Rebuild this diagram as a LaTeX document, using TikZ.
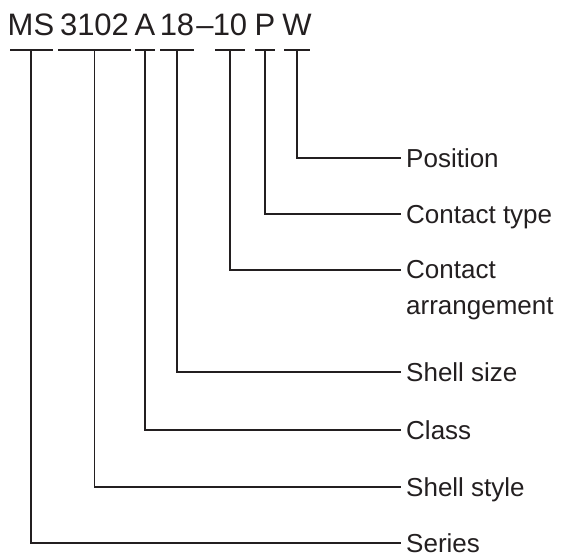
\documentclass[tikz,border=0pt]{standalone}
\usepackage{fontspec}
\setmainfont{Liberation Sans}
\definecolor{ink}{RGB}{35,31,32}
\tikzset{
  code/.style={anchor=base, inner sep=0pt, text=ink, font=\fontsize{31}{31}\selectfont},
  lbl/.style={anchor=west, inner xsep=5pt, inner ysep=0pt, text height=18.6pt, text depth=0pt, text=ink},
  wire/.style={draw=ink, line width=1.5pt}
}
\begin{document}
\begin{tikzpicture}[x=1pt, y=-1pt, line join=miter, font=\fontsize{26}{36}\selectfont]
  \useasboundingbox (0,0) rectangle (567,558);
  % the code
  \node[code] (ms)   at (31,35)    {MS};
  \node[code] (num)  at (94.5,35)  {3102};
  \node[code] (cls)  at (145,35)   {A};
  \node[code] (size) at (177,35)   {18};
  \node[code] (dash) at (205,35)   {–};
  \node[code] (arr)  at (230,35)   {10};
  \node[code] (typ)  at (265,35)   {P};
  \node[code] (pos)  at (297,35)   {W};
  % bars under the parts
  \foreach \a/\b in {10/53, 58/131, 135/155, 160/194, 215/245, 255/275, 284/310}
    \draw[wire] (\a,50) -- (\b,50);
  \coordinate (tMS)   at (31,50);
  \coordinate (tNum)  at (94.5,50);
  \coordinate (tCls)  at (145,50);
  \coordinate (tSize) at (177,50);
  \coordinate (tArr)  at (230,50);
  \coordinate (tTyp)  at (265,50);
  \coordinate (tPos)  at (297,50);
  % labels
  \node[lbl] (position) at (401,158) {Position};
  \node[lbl] (ctype)    at (401,214) {Contact type};
  \coordinate (eArr) at (401,270);
  \node[anchor=north west, align=left, inner xsep=5pt, inner ysep=0pt, text=ink] (carr) at (401,260.5) {Contact\\arrangement};
  \node[lbl] (ssize)    at (401,372) {Shell size};
  \node[lbl] (class)    at (401,430) {Class};
  \node[lbl] (sstyle)   at (401,487) {Shell style};
  \node[lbl] (series)   at (401,543) {Series};
  % leaders
  \draw[wire] (tPos) |- (position.west);
  \draw[wire] (tTyp) |- (ctype.west);
  \draw[wire] (tArr) |- (eArr);
  \draw[wire] (tSize) |- (ssize.west);
  \draw[wire] (tCls) |- (class.west);
  \draw[wire] (tNum) |- (sstyle.west);
  \draw[wire] (tMS) |- (series.west);
\end{tikzpicture}
\end{document}
